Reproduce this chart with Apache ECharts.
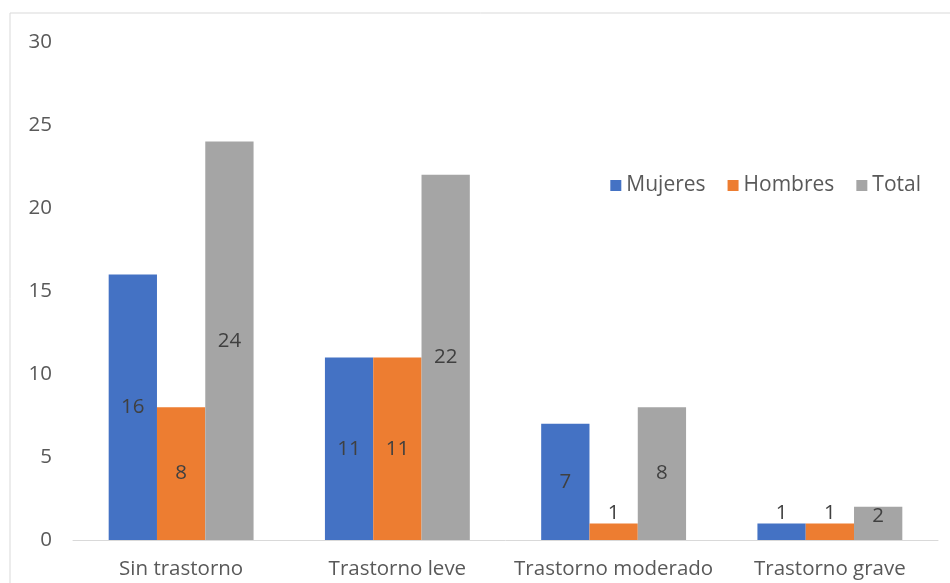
<!DOCTYPE html>
<html>
<head>
<meta charset="utf-8">
<script src="https://cdn.jsdelivr.net/npm/echarts@6/dist/echarts.min.js"></script>
<style>
html,body{margin:0;padding:0;background:#fff;}
#chart{width:950px;height:583px;}
</style>
</head>
<body>
<div id="chart"></div>
<script>
const categories = ['Sin trastorno', 'Trastorno leve', 'Trastorno moderado', 'Trastorno grave'];
const mujeres = [16, 11, 7, 1];
const hombres = [8, 11, 1, 1];
const total = [24, 22, 8, 2];
const yTicks = [0, 5, 10, 15, 20, 25, 30];

const FONT = '"Open Sans", "Noto Sans", sans-serif';
const FS = 20.5;

function labelled(values) {
  return values.map(function (v) {
    if (v <= 1) return { value: v, label: { position: 'top', distance: 0 } };
    if (v <= 2) return { value: v, label: { position: 'insideTop', distance: -1 } };
    return v;
  });
}

function mkSeries(name, values, color) {
  return {
    name: name,
    type: 'bar',
    data: labelled(values),
    itemStyle: { color: color },
    barGap: '0%',
    barCategoryGap: '33%',
    label: {
      show: true,
      position: 'inside',
      color: '#404040',
      fontSize: FS,
      fontFamily: FONT
    }
  };
}

const chart = echarts.init(document.getElementById('chart'));
chart.setOption({
  animation: false,
  backgroundColor: '#ffffff',
  graphic: [{
    type: 'rect',
    shape: { x: 10, y: 13, width: 960, height: 600 },
    style: { fill: 'none', stroke: '#d9d9d9', lineWidth: 1 },
    silent: true
  }],
  legend: {
    right: 24,
    top: 170,
    itemWidth: 11,
    itemHeight: 11,
    itemGap: 22,
    icon: 'rect',
    textStyle: { color: '#595959', fontSize: 21, fontFamily: FONT },
    data: ['Mujeres', 'Hombres', 'Total']
  },
  grid: { left: 73, right: 12, top: 42, bottom: 43, containLabel: false },
  xAxis: {
    type: 'category',
    data: categories,
    axisLine: { lineStyle: { color: '#d9d9d9', width: 1 } },
    axisTick: { show: false },
    axisLabel: { color: '#595959', fontSize: FS, fontFamily: FONT, margin: 19, interval: 0 }
  },
  yAxis: {
    type: 'value',
    min: yTicks[0],
    max: yTicks[yTicks.length - 1],
    interval: 5,
    splitLine: { show: false },
    axisLine: { show: false },
    axisTick: { show: false },
    axisLabel: { color: '#595959', fontSize: FS, fontFamily: FONT, margin: 21 }
  },
  series: [
    mkSeries('Mujeres', mujeres, '#4472C4'),
    mkSeries('Hombres', hombres, '#ED7D31'),
    mkSeries('Total', total, '#A5A5A5')
  ]
});
</script>
</body>
</html>
